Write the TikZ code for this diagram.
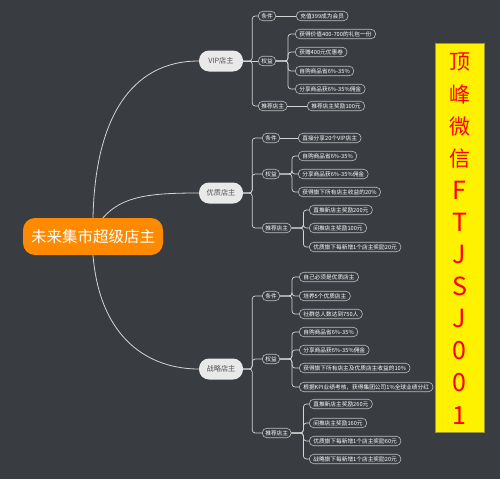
\documentclass[tikz,border=0pt]{standalone}
\usepackage{fontspec}
\setmainfont{Noto Sans CJK SC}
\usepackage{tikz}
\usetikzlibrary{positioning}
\definecolor{mapbg}{HTML}{393C41}
\definecolor{rootorange}{HTML}{FF8A00}
\definecolor{lvlfill}{HTML}{E9E9E9}
\definecolor{lvltext}{HTML}{505050}
\definecolor{wire}{HTML}{D4D4D4}
\definecolor{rim}{HTML}{BEBEBE}
\tikzset{
  rootbox/.style={rectangle, rounded corners=12pt, fill=rootorange, text=white,
                  minimum width=140pt, minimum height=37pt, inner sep=0pt,
                  font=\fontsize{15.5}{16}\selectfont},
  lvlbox/.style ={rectangle, rounded corners=10pt, fill=lvlfill, text=lvltext,
                  minimum width=44pt, minimum height=21pt, inner sep=2pt,
                  font=\fontsize{7.2}{8}\selectfont},
  tagbox/.style ={rectangle, rounded corners=4.5pt, draw=rim, fill=mapbg, text=white,
                  line width=0.6pt, minimum height=9.5pt, inner xsep=3pt, inner ysep=0pt,
                  anchor=west, font=\fontsize{5.7}{6}\selectfont},
  leafbox/.style={tagbox, inner xsep=4pt},
  bough/.style  ={draw=wire, line width=0.8pt},
  twig/.style   ={draw=wire, line width=0.7pt, rounded corners=3pt},
  wxbox/.style  ={rectangle, fill=yellow, draw=black!45!yellow, line width=0.5pt,
                  minimum width=49pt, minimum height=389pt, inner sep=0pt},
  wxch/.style   ={text=red, inner sep=0pt, font=\fontsize{21}{22}\selectfont},
  wxlat/.style  ={wxch, font=\fontsize{25}{26}\selectfont},
}

\begin{document}
\begin{tikzpicture}[x=1pt,y=-1pt]
  \fill[mapbg] (0,0) rectangle (500,479);

  % root and first level
  \node[rootbox] (root) at (93,236.5) {未来集市超级店主};
  \node[lvlbox] (vip)  at (221,61)  {VIP店主};
  \node[lvlbox] (you)  at (221,193) {优质店主};
  \node[lvlbox] (zhan) at (221,369) {战略店主};
  \draw[bough] (root.north) .. controls (95,120) and (130,61) .. (vip.west);
  \draw[bough] ([xshift=10pt]root.north) .. controls (122,196) and (150,193) .. (you.west);
  \draw[bough] (root.south) .. controls (100,340) and (150,369) .. (zhan.west);

  % VIP店主
  \node[tagbox] (vipA) at (258,16)  {条件};
  \node[tagbox] (vipB) at (258,61)  {权益};
  \node[tagbox] (vipC) at (258,106) {推荐店主};
  \node[leafbox] (vipA1) at (296,16)  {充值399成为会员};
  \node[leafbox] (vipB1) at (295,34)  {获得价值400-700的礼包一份};
  \node[leafbox] (vipB2) at (295,52)  {获赠400元优惠卷};
  \node[leafbox] (vipB3) at (295,71)  {自购商品省6\%-35\%};
  \node[leafbox] (vipB4) at (295,89)  {分享商品获6\%-35\%佣金};
  \node[leafbox] (vipC1) at (307,106) {推荐店主奖励100元};
  \draw[twig] (vip.east) -- ++(9,0) |- (vipA.west);
  \draw[twig] (vip.east) -- (vipB.west);
  \draw[twig] (vip.east) -- ++(9,0) |- (vipC.west);
  \draw[twig] (vipA.east) -- (vipA1.west);
  \foreach \n in {vipB1,vipB2,vipB3,vipB4}
    \draw[twig] (vipB.east) -- ++(12,0) |- (\n.west);
  \draw[twig] (vipC.east) -- (vipC1.west);

  % 优质店主
  \node[tagbox] (youA) at (262,138) {条件};
  \node[tagbox] (youB) at (262,174) {权益};
  \node[tagbox] (youC) at (262,228) {推荐店主};
  \node[leafbox] (youA1) at (298,138) {直接分享20个VIP店主};
  \node[leafbox] (youB1) at (298,156) {自购商品省6\%-35\%};
  \node[leafbox] (youB2) at (298,174) {分享商品获6\%-35\%佣金};
  \node[leafbox] (youB3) at (298,192) {获得旗下所有店主收益的20\%};
  \node[leafbox] (youC1) at (309,210) {直推新店主奖励200元};
  \node[leafbox] (youC2) at (309,228) {间推店主奖励100元};
  \node[leafbox] (youC3) at (309,247) {优质旗下每新增1个店主奖励20元};
  \foreach \n in {youA,youB,youC}
    \draw[twig] (you.east) -- ++(9,0) |- (\n.west);
  \draw[twig] (youA.east) -- (youA1.west);
  \foreach \n in {youB1,youB2,youB3}
    \draw[twig] (youB.east) -- ++(12,0) |- (\n.west);
  \foreach \n in {youC1,youC2,youC3}
    \draw[twig] (youC.east) -- ++(12,0) |- (\n.west);

  % 战略店主
  \node[tagbox] (zhanA) at (262,296) {条件};
  \node[tagbox] (zhanB) at (262,359) {权益};
  \node[tagbox] (zhanC) at (262,433) {推荐店主};
  \node[leafbox] (zhanA1) at (299,277) {自己必须是优质店主};
  \node[leafbox] (zhanA2) at (299,296) {培养5个优质店主};
  \node[leafbox] (zhanA3) at (299,314) {社群总人数达到750人};
  \node[leafbox] (zhanB1) at (299,332) {自购商品省6\%-35\%};
  \node[leafbox] (zhanB2) at (299,350) {分享商品获6\%-35\%佣金};
  \node[leafbox] (zhanB3) at (299,368) {获得旗下所有店主及优质店主收益的10\%};
  \node[leafbox] (zhanB4) at (299,387) {根据KPI业绩考核，获得集团公司1\%全球业绩分红};
  \node[leafbox] (zhanC1) at (309,404) {直推新店主奖励260元};
  \node[leafbox] (zhanC2) at (309,423) {间推店主奖励160元};
  \node[leafbox] (zhanC3) at (309,441) {优质旗下每新增1个店主奖励60元};
  \node[leafbox] (zhanC4) at (309,459) {战略旗下每新增1个店主奖励20元};
  \foreach \n in {zhanA,zhanB,zhanC}
    \draw[twig] (zhan.east) -- ++(9,0) |- (\n.west);
  \foreach \n in {zhanA1,zhanA2,zhanA3}
    \draw[twig] (zhanA.east) -- ++(12,0) |- (\n.west);
  \foreach \n in {zhanB1,zhanB2,zhanB3,zhanB4}
    \draw[twig] (zhanB.east) -- ++(12,0) |- (\n.west);
  \foreach \n in {zhanC1,zhanC2,zhanC3,zhanC4}
    \draw[twig] (zhanC.east) -- ++(12,0) |- (\n.west);

  % yellow strip
  \node[wxbox] (wx) at (459.5,237.5) {};
  \foreach \ch [count=\i from 0] in {顶,峰,微,信}
    \node[wxch] (wx\i) at (459.5,62+32.1*\i) {\ch};
  \foreach \ch [count=\i from 4] in {F,T,J,S,J,0,0,1}
    \node[wxlat] (wx\i) at (459.5,62+32.1*\i) {\ch};
\end{tikzpicture}
\end{document}
